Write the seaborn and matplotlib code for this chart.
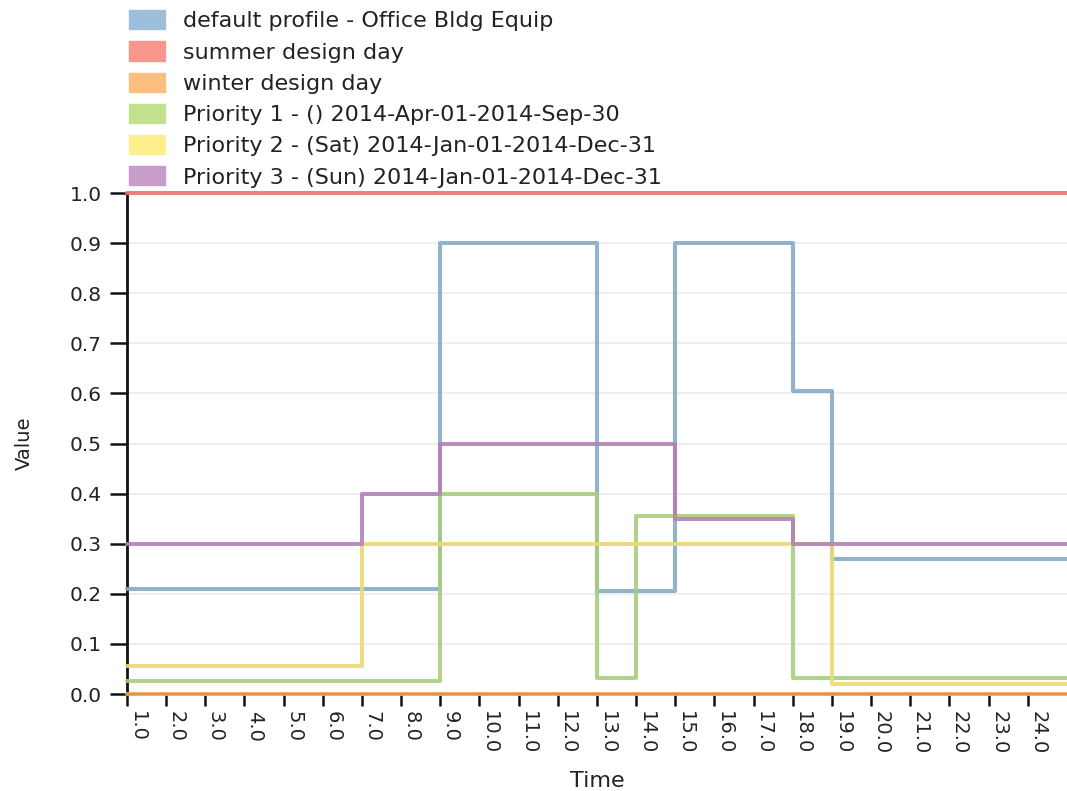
import matplotlib
matplotlib.use('Agg')
import matplotlib.pyplot as plt
import matplotlib.transforms as mtransforms
from matplotlib.patches import Patch
import numpy as np
import pandas as pd
import seaborn as sns

hours = list(range(1, 25))
series_names = [
    'default profile - Office Bldg Equip',
    'summer design day',
    'winter design day',
    'Priority 1 - () 2014-Apr-01-2014-Sep-30',
    'Priority 2 - (Sat) 2014-Jan-01-2014-Dec-31',
    'Priority 3 - (Sun) 2014-Jan-01-2014-Dec-31',
]
default_profile = [0.21] * 8 + [0.9] * 4 + [0.205] * 2 + [0.9] * 3 + [0.605] + [0.27] * 6
summer_design = [1.0] * 24
winter_design = [0.0] * 24
priority_1 = [0.025] * 8 + [0.4] * 4 + [0.032] + [0.355] * 4 + [0.032] * 7
priority_2 = [0.055] * 6 + [0.3] * 12 + [0.02] * 6
priority_3 = [0.3] * 6 + [0.4] * 2 + [0.5] * 6 + [0.35] * 3 + [0.3] * 7

line_colors = ['#86abc9', '#e0786f', '#f0a65e', '#a9cd7d', '#eadb72', '#b283b6']
patch_colors = ['#9dbfdc', '#f7968c', '#fdbf80', '#c3e08d', '#fdef8c', '#c79cc9']

all_values = [default_profile, summer_design, winter_design, priority_1, priority_2, priority_3]

# steps-post needs one extra point to draw the last hour
frames = []
for name, vals in zip(series_names, all_values):
    frames.append(pd.DataFrame({
        'Time': hours + [hours[-1] + 1],
        'Value': vals + [vals[-1]],
        'series': name,
    }))
df = pd.concat(frames, ignore_index=True)

sns.set_style('white')
plt.rcParams['font.family'] = ['DejaVu Sans']

fig = plt.figure(figsize=(10.67, 7.91), dpi=100)
ax = fig.add_axes([0.119, 0.1226, 0.881, 0.6334])

sns.lineplot(
    data=df, x='Time', y='Value', hue='series', hue_order=series_names,
    palette=dict(zip(series_names, line_colors)), drawstyle='steps-post',
    estimator=None, linewidth=2.9, alpha=0.9, legend=False, ax=ax,
)
for line in ax.get_lines():
    line.set_clip_on(False)
    line.set_zorder(3)

ax.set_xlim(1, 25)
ax.set_ylim(0, 1.0)
ax.set_xticks(hours)
ax.set_xticklabels([f'{h:.1f}' for h in hours], rotation=-90, fontsize=14, color='#222222')
ax.set_yticks(np.arange(0, 1.01, 0.1))
ax.set_yticklabels([f'{v:.1f}' for v in np.arange(0, 1.01, 0.1)], fontsize=14.5, color='#222222')
ax.tick_params(axis='x', bottom=True, direction='out', length=8.5, width=1.8, color='#111111', pad=4)
ax.tick_params(axis='y', left=True, direction='out', length=12, width=1.8, color='#111111', pad=6)

# labels sit a little right of their ticks
shift = mtransforms.ScaledTranslation(10 / 100, 0, fig.dpi_scale_trans)
for lbl in ax.get_xticklabels():
    lbl.set_transform(lbl.get_transform() + shift)

ax.yaxis.grid(True, color='#ebebeb', linewidth=1.2)
ax.set_axisbelow(True)
for side in ['top', 'right']:
    ax.spines[side].set_visible(False)
ax.spines['left'].set_color('#111111')
ax.spines['left'].set_linewidth(2)
ax.spines['bottom'].set_color('#111111')
ax.spines['bottom'].set_linewidth(1.5)

ax.set_xlabel('Time', fontsize=16, labelpad=12, color='#222222')
ax.set_ylabel('Value', fontsize=14, labelpad=26, color='#222222')

handles = [Patch(facecolor=c, edgecolor=c, alpha=1.0) for c in patch_colors]
fig.legend(
    handles, series_names, loc='upper left', bbox_to_anchor=(0.108, 1.004),
    frameon=False, fontsize=16, handlelength=1.65, handleheight=0.95,
    labelspacing=0.45, handletextpad=0.8, borderaxespad=0.2,
    labelcolor='#222222',
)

fig.savefig('out.png', dpi=100)
